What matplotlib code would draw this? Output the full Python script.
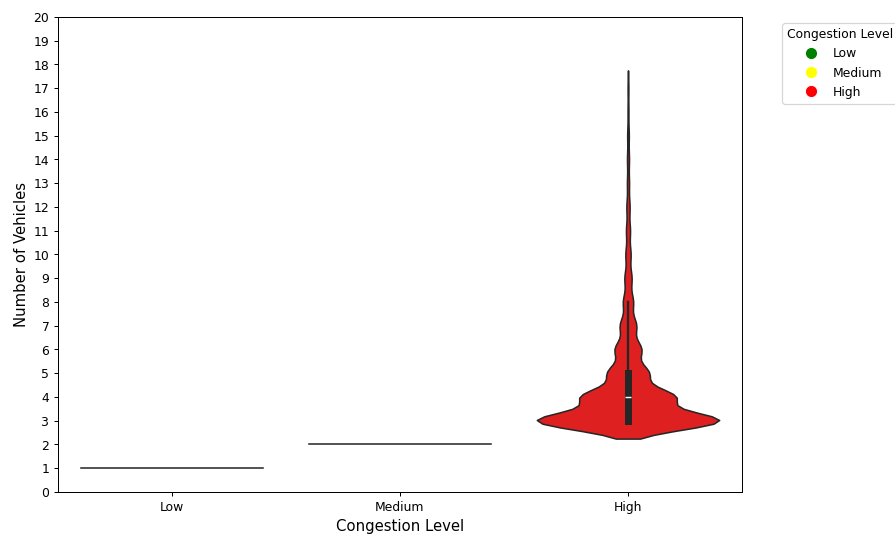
import numpy as np
import pandas as pd
import matplotlib
matplotlib.use("Agg")
import matplotlib.pyplot as plt
from matplotlib.lines import Line2D
import seaborn as sns

# categories and colours
levels = ["Low", "Medium", "High"]
level_colors = {"Low": "green", "Medium": "yellow", "High": "red"}

# vehicle counts per congestion level (value -> number of records)
low_values = [1]
low_counts = [2600]
medium_values = [2]
medium_counts = [1900]
high_values = [3, 4, 5, 6, 7, 8, 9, 10, 11, 12, 13, 14, 15, 16, 17]
high_counts = [4040, 2035, 890, 575, 355, 220, 155, 113, 87, 70, 45, 43, 35, 18, 17]

df = pd.DataFrame({
    "Congestion Level": (["Low"] * sum(low_counts) + ["Medium"] * sum(medium_counts)
                         + ["High"] * sum(high_counts)),
    "Number of Vehicles": np.concatenate([
        np.repeat(low_values, low_counts),
        np.repeat(medium_values, medium_counts),
        np.repeat(high_values, high_counts),
    ]),
})

fig = plt.figure(figsize=(10, 5.978), dpi=89.5)
ax = fig.add_axes([58 / 895, 1 - 492 / 535, (742 - 58) / 895, (492 - 17) / 535])

sns.violinplot(data=df, x="Congestion Level", y="Number of Vehicles",
               hue="Congestion Level", order=levels, hue_order=levels,
               palette=level_colors, legend=False, ax=ax)

ax.set_yticks(range(0, 21))
ax.set_ylim(0, 20)
ax.set_xlabel("Congestion Level", fontsize=12)
ax.set_ylabel("Number of Vehicles", fontsize=12)

# legend with coloured dots
handles = [Line2D([0], [0], marker="o", color="w", markerfacecolor=level_colors[l],
                  markersize=10, label=l) for l in levels]
ax.legend(handles=handles, title="Congestion Level", bbox_to_anchor=(1.05, 1), loc="upper left")

fig.savefig("out.png", dpi=89.5)
